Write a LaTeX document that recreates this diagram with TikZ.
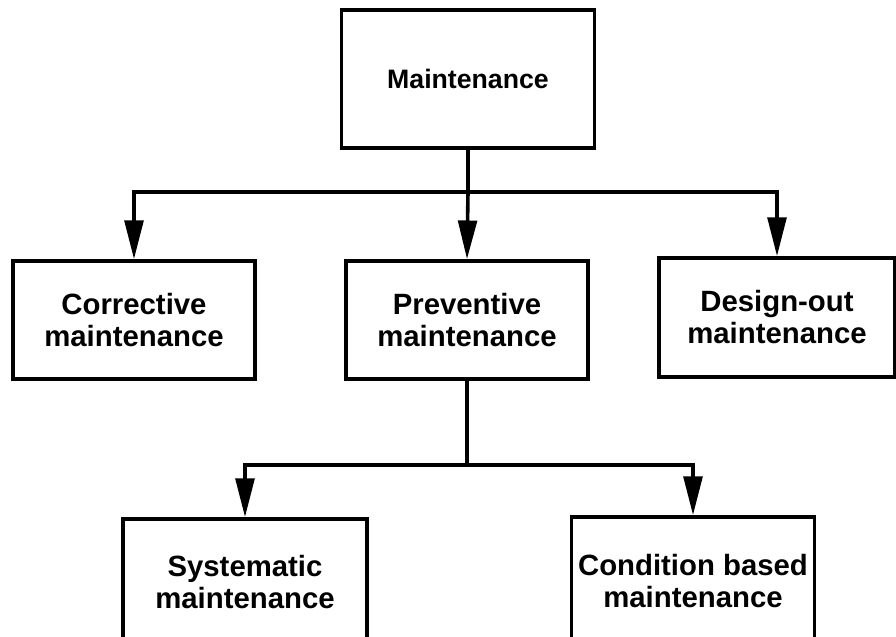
\documentclass[tikz,border=0pt]{standalone}
\usepackage{fontspec}
\setmainfont{Liberation Sans}
\usetikzlibrary{arrows.meta}
\newcommand{\twolines}[2]{\raisebox{8pt}{\begin{tabular}{@{}c@{}}#1\\#2\end{tabular}}}
\begin{document}
\begin{tikzpicture}[x=0.75pt,y=-0.75pt,
  box/.style={draw=black, line width=2.8pt, fill=white, rectangle, align=center,
    inner sep=0pt, font=\bfseries\fontsize{22}{24}\selectfont},
  conn/.style={draw=black, line width=2.7pt},
  arr/.style={conn, -{Triangle[length=29pt,width=14pt]}}]
\useasboundingbox (0,0) rectangle (896,636);
% top
\node[box, minimum width=253*0.75pt, minimum height=138*0.75pt,
  font=\bfseries\fontsize{20}{22}\selectfont] (M) at (468,79) {Maintenance};
% second level
\node[box, minimum width=242*0.75pt, minimum height=118*0.75pt] (C) at (134,320) {Corrective\\maintenance};
\node[box, minimum width=242*0.75pt, minimum height=118*0.75pt] (P) at (467,320) {Preventive\\maintenance};
\node[box, minimum width=236*0.75pt, minimum height=119*0.75pt] (D) at (777,317.5) {Design-out\\maintenance};
% third level (bottom edges fall outside the picture)
\node[box, minimum width=244*0.75pt, minimum height=134*0.75pt] (S) at (245,586)
  {\twolines{Systematic}{maintenance}};
\node[box, minimum width=243*0.75pt, minimum height=136*0.75pt] (K) at (693,585)
  {\twolines{Condition based}{maintenance}};
% connectors
\coordinate (h1) at (468,192);
\coordinate (h2) at (467,465);
\draw[conn] (M.south) -- (h1);
\draw[arr] (h1) -| (C.north);
\draw[arr] (h1) -- (P.north);
\draw[arr] (h1) -| (D.north);
\draw[conn] (P.south) -- (h2);
\draw[arr] (h2) -| (S.north);
\draw[arr] (h2) -| (K.north);
\end{tikzpicture}
\end{document}
